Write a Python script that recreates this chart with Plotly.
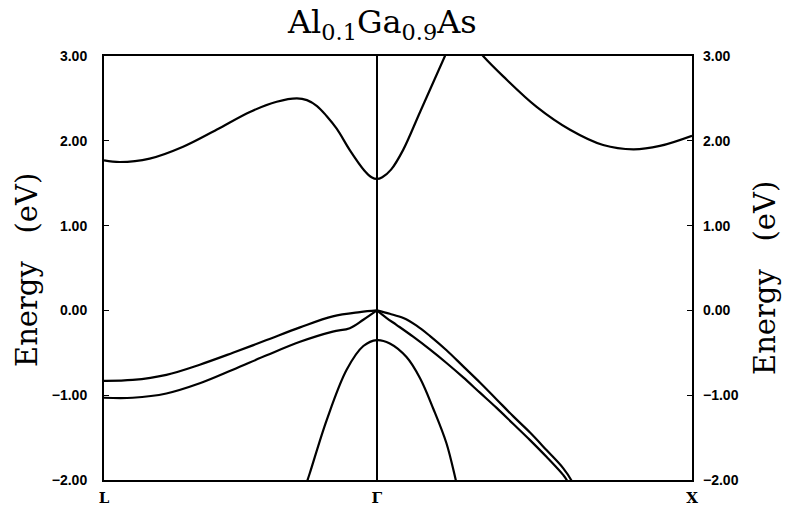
import plotly.graph_objects as go

# k along L -> Gamma -> X (Gamma at 0, L at -sqrt(3)/2, X at 1)
k_L, k_G, k_X = -0.866, 0.0, 1.0
sym_labels = ['L', 'Γ', 'X']

# conduction band, L -> Gamma -> up out of the frame
cb1_k = [-0.866, -0.816, -0.721, -0.615, -0.509, -0.403, -0.318, -0.254, -0.222, -0.190, -0.159, -0.127, -0.086,
         -0.040, -0.017, 0.0, 0.017, 0.045, 0.083, 0.137, 0.216, 0.25]
cb1_e = [1.77, 1.75, 1.79, 1.93, 2.13, 2.34, 2.46, 2.50, 2.48, 2.41, 2.29, 2.14, 1.89,
         1.65, 1.57, 1.55, 1.57, 1.66, 1.89, 2.34, 3.00, 3.28]

# upper conduction band coming down towards X
cb2_k = [0.295, 0.337, 0.401, 0.507, 0.613, 0.718, 0.814, 0.898, 1.0]
cb2_e = [3.19, 3.00, 2.76, 2.40, 2.13, 1.95, 1.90, 1.94, 2.06]

# valence bands L -> Gamma
vb1_lg_k = [-0.866, -0.775, -0.668, -0.562, -0.457, -0.350, -0.244, -0.140, -0.054, 0.0]
vb1_lg_e = [-0.83, -0.82, -0.76, -0.64, -0.50, -0.35, -0.20, -0.07, -0.02, 0.0]
vb2_lg_k = [-0.866, -0.775, -0.668, -0.562, -0.457, -0.350, -0.244, -0.140, -0.086, -0.043, 0.0]
vb2_lg_e = [-1.03, -1.03, -0.98, -0.86, -0.70, -0.53, -0.37, -0.25, -0.21, -0.11, 0.0]

# valence bands Gamma -> X
vb1_gx_k = [0.0, 0.041, 0.084, 0.126, 0.168, 0.221, 0.274, 0.327, 0.380, 0.433, 0.486, 0.539, 0.591, 0.618, 0.65]
vb1_gx_e = [0.0, -0.04, -0.09, -0.18, -0.30, -0.47, -0.66, -0.85, -1.05, -1.25, -1.44, -1.65, -1.86, -2.01, -2.3]
vb2_gx_k = [0.0, 0.031, 0.062, 0.115, 0.168, 0.221, 0.274, 0.327, 0.380, 0.433, 0.486, 0.539, 0.591, 0.604, 0.64]
vb2_gx_e = [0.0, -0.09, -0.17, -0.31, -0.46, -0.62, -0.79, -0.97, -1.15, -1.34, -1.53, -1.73, -1.94, -2.01, -2.35]

# split-off band around Gamma
so_k = [-0.229, -0.213, -0.159, -0.096, -0.043, 0.0, 0.041, 0.094, 0.137, 0.179, 0.221, 0.251, 0.26]
so_e = [-2.10, -1.92, -1.29, -0.70, -0.42, -0.35, -0.39, -0.55, -0.80, -1.16, -1.57, -2.01, -2.15]

y_ticks = [-2, -1, 0, 1, 2, 3]
y_text = [('%.2f' % v).replace('-', '\u2212') for v in y_ticks]

bands = [(cb1_k, cb1_e), (cb2_k, cb2_e), (vb1_lg_k, vb1_lg_e), (vb2_lg_k, vb2_lg_e),
         (vb1_gx_k, vb1_gx_e), (vb2_gx_k, vb2_gx_e), (so_k, so_e)]

fig = go.Figure()
for kk, ee in bands:
    fig.add_trace(go.Scatter(x=kk, y=ee, mode='lines', showlegend=False, hoverinfo='skip',
                             line=dict(color='black', width=2.2, shape='spline', smoothing=1.0)))
# dummy trace so the right-hand axis gets drawn
fig.add_trace(go.Scatter(x=[k_G], y=[0], yaxis='y2', mode='markers', showlegend=False,
                         marker=dict(opacity=0), hoverinfo='skip'))

W, H = 790, 507
L, R, T, B = 104, 98, 56, 27
pw, ph = W - L - R, H - T - B

tick_font = dict(family='Liberation Sans', size=14, color='black', weight='bold')
lab_font = dict(family='DejaVu Serif', size=29, color='black')
ylabel = 'Energy\u00a0\u00a0\u00a0(eV)'


def paper_xy(px, py):
    return (px - L) / pw, (H - B - py) / ph


ann = []
x0, y0 = paper_xy(27, 270)
ann.append(dict(text=ylabel, x=x0, y=y0, textangle=-90))
x1, y1 = paper_xy(765, 278)
ann.append(dict(text=ylabel, x=x1, y=y1, textangle=-90))
for a in ann:
    a.update(xref='paper', yref='paper', xanchor='center', yanchor='middle', showarrow=False, font=lab_font)
xt, yt = paper_xy(382, 24)
ann.append(dict(text='Al<sub>0.1</sub>Ga<sub>0.9</sub>As', xref='paper', yref='paper', x=xt, y=yt,
                xanchor='center', yanchor='middle', showarrow=False,
                font=dict(family='DejaVu Serif', size=32, color='black')))

fig.update_layout(
    width=W, height=H,
    margin=dict(l=L, r=R, t=T, b=B),
    plot_bgcolor='white', paper_bgcolor='white',
    xaxis=dict(range=[k_L, k_X], tickvals=[k_L, k_G, k_X], ticktext=sym_labels, automargin=False,
               showgrid=True, gridcolor='black', gridwidth=1.5, zeroline=False,
               showline=True, linecolor='black', linewidth=2, mirror=True, ticks='',
               ticklabelstandoff=3,
               tickfont=dict(family='DejaVu Serif', size=15, color='black', weight='bold')),
    yaxis=dict(range=[-2, 3], tickvals=y_ticks, ticktext=y_text, showgrid=False, zeroline=False,
               showline=True, linecolor='black', linewidth=2, mirror=True, automargin=False,
               ticks='inside', ticklen=5, tickcolor='black', ticklabelstandoff=12,
               tickfont=tick_font),
    yaxis2=dict(range=[-2, 3], overlaying='y', side='right', tickvals=y_ticks, ticktext=y_text,
                showgrid=False, zeroline=False, ticks='inside', ticklen=5, tickcolor='black',
                automargin=False, ticklabelstandoff=10, tickfont=tick_font),
    annotations=ann,
)

# page body has a default margin; drop it so the figure sits at the top-left corner
fig.write_html('out.html', config={'displayModeBar': False},
               post_script="document.body.style.margin='0';")
